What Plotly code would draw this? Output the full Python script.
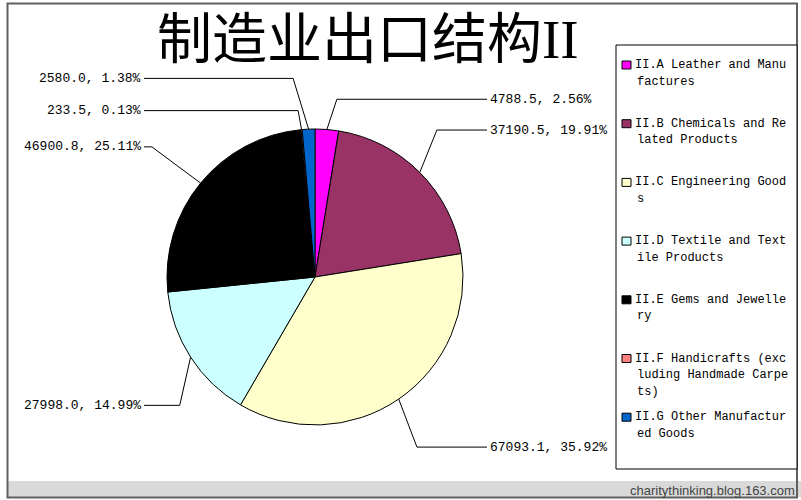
import math
import plotly.graph_objects as go

# ---------------- data ----------------
categories = [
    "II.A Leather and Manufactures",
    "II.B Chemicals and Related Products",
    "II.C Engineering Goods",
    "II.D Textile and Textile Products",
    "II.E Gems and Jewellery",
    "II.F Handicrafts (excluding Handmade Carpets)",
    "II.G Other Manufactured Goods",
]
values = [4788.5, 37190.5, 67093.1, 27998.0, 46900.8, 233.5, 2580.0]
title_text = "制造业出口结构II"
watermark = "charitythinking.blog.163.com"

# ---------------- style ----------------
colors = ["#FF00FF", "#993366", "#FFFFCC", "#CCFFFF", "#000000", "#FF8080", "#0066CC"]
# label placement (like manually dragged Excel data labels)
label_radius = [1.21, 1.29, 1.34, 1.26, 1.41, 1.13, 1.35]
label_angle_shift = [2.4, -5.4, 3.5, -10.7, -0.8, -0.6, -3.8]

W, H = 801, 500
CX, CY, R = 315, 277, 148          # pie geometry in pixels
RIGHT_COL, LEFT_COL = 488, 144     # label columns
MONO = "Liberation Mono, DejaVu Sans Mono, monospace"


def X(px):
    return px / W


def Y(py):
    return 1 - py / H


fig = go.Figure()
fig.add_trace(go.Pie(
    labels=categories,
    values=values,
    sort=False,
    direction="clockwise",
    rotation=0,
    textinfo="none",
    hoverinfo="label+value+percent",
    showlegend=False,
    marker=dict(colors=colors, line=dict(color="#000000", width=1)),
    domain=dict(x=[X(CX - R), X(CX + R)], y=[Y(CY + R), Y(CY - R)]),
))

shapes = []
annotations = []

# outer frame, bottom bar
shapes.append(dict(type="rect", xref="paper", yref="paper",
                   x0=X(8), x1=X(801), y0=Y(497), y1=Y(481),
                   fillcolor="#D9D9D9", line=dict(width=0), layer="below"))
shapes.append(dict(type="rect", xref="paper", yref="paper",
                   x0=X(7.5), x1=X(797), y0=Y(497.5), y1=Y(3.5),
                   fillcolor="rgba(0,0,0,0)", line=dict(color="#606060", width=2)))

# title
annotations.append(dict(text=title_text, xref="paper", yref="paper",
                        x=X(368), y=Y(40), xanchor="center", yanchor="middle",
                        showarrow=False,
                        font=dict(size=55, color="#000000",
                                  family="Liberation Serif, Noto Sans CJK SC")))

# watermark
annotations.append(dict(text=watermark, xref="paper", yref="paper",
                        x=X(797), y=Y(490), xanchor="right", yanchor="middle",
                        showarrow=False,
                        font=dict(size=13, color="#444444",
                                  family="Liberation Sans, Arial, sans-serif")))

# data labels with leader lines
total = sum(values)
cum = 0.0
for i, v in enumerate(values):
    frac = v / total
    mid = (cum + frac / 2) * 360.0
    cum += frac
    a0 = math.radians(mid)
    ex, ey = CX + R * math.sin(a0), CY - R * math.cos(a0)
    a1 = math.radians(mid + label_angle_shift[i])
    rr = R * label_radius[i]
    bx, by = CX + rr * math.sin(a1), CY - rr * math.cos(a1)
    right = math.sin(a1) > 0
    endx = RIGHT_COL - 1 if right else LEFT_COL
    shapes.append(dict(type="path", xref="paper", yref="paper",
                       path=f"M {X(ex)},{Y(ey)} L {X(bx)},{Y(by)} L {X(endx)},{Y(by)}",
                       line=dict(color="#000000", width=1)))
    txt = f"{v:.1f}, {frac * 100:.2f}%"
    annotations.append(dict(text=txt, xref="paper", yref="paper",
                            x=X(RIGHT_COL if right else LEFT_COL - 1), y=Y(by),
                            xanchor="left" if right else "right", yanchor="middle",
                            showarrow=False,
                            font=dict(size=13, color="#000000", family=MONO)))

# legend box (manual, Excel-like)
LEG_X0, LEG_X1, LEG_Y0, LEG_Y1 = 616, 797, 45, 469
shapes.append(dict(type="rect", xref="paper", yref="paper",
                   x0=X(LEG_X0), x1=X(LEG_X1), y0=Y(LEG_Y1), y1=Y(LEG_Y0),
                   fillcolor="#FFFFFF", line=dict(color="#000000", width=1)))
LEG_TOP, LEG_STEP, LINE_H, WRAP = 65, 58.7, 16.6, 21
for i, name in enumerate(categories):
    y0 = LEG_TOP + LEG_STEP * i
    shapes.append(dict(type="rect", xref="paper", yref="paper",
                       x0=X(622), x1=X(631), y0=Y(y0 + 4), y1=Y(y0 - 4),
                       fillcolor=colors[i], line=dict(color="#000000", width=1)))
    lines = [name[k:k + WRAP] for k in range(0, len(name), WRAP)]
    for j, ln in enumerate(lines):
        annotations.append(dict(text=ln, xref="paper", yref="paper",
                                x=X(633 if j == 0 else 635), y=Y(y0 + LINE_H * j),
                                xanchor="left", yanchor="middle", showarrow=False,
                                font=dict(size=12, color="#000000", family=MONO)))

fig.update_layout(
    width=W, height=H,
    margin=dict(l=0, r=0, t=0, b=0),
    paper_bgcolor="#FFFFFF",
    plot_bgcolor="#FFFFFF",
    shapes=shapes,
    annotations=annotations,
)

fig.write_html(
    "out.html",
    config={"displayModeBar": False},
    post_script="document.body.style.margin='0';document.body.style.overflow='hidden';",
)
